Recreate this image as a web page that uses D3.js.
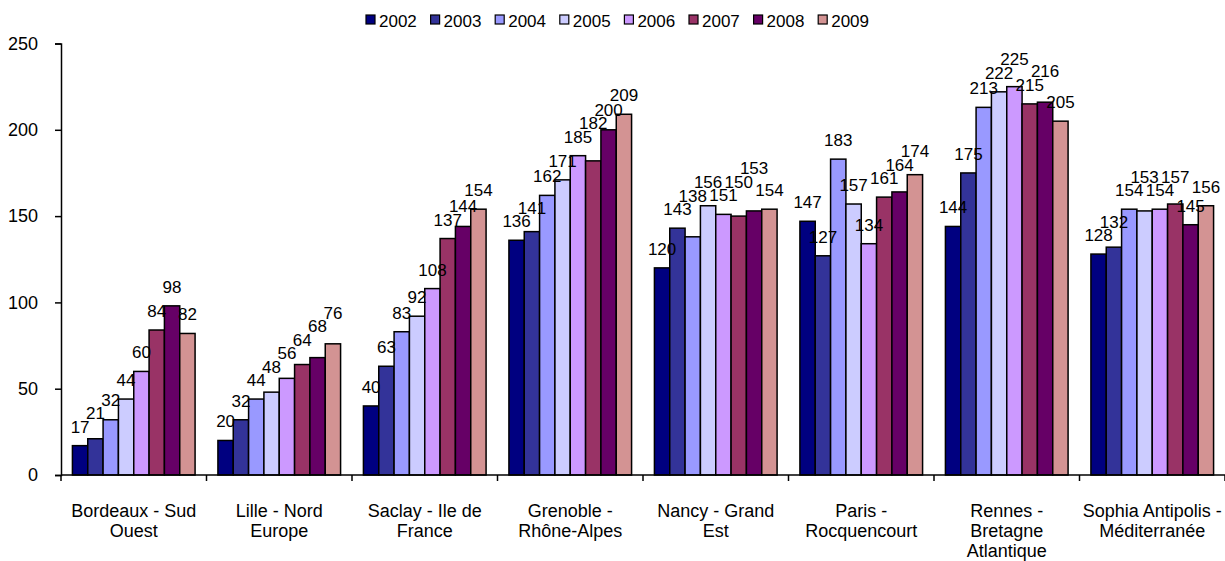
<!DOCTYPE html>
<html>
<head>
<meta charset="utf-8">
<script src="https://cdn.jsdelivr.net/npm/d3@7"></script>
<style>
  body { margin: 0; background: #fff; }
  text { font-family: "Liberation Sans", Arial, sans-serif; fill: #000; }
</style>
</head>
<body>
<div id="chart"></div>
<script>
// data
var categories = [
  "Bordeaux - Sud\nOuest",
  "Lille - Nord\nEurope",
  "Saclay - Ile de\nFrance",
  "Grenoble -\nRhône-Alpes",
  "Nancy - Grand\nEst",
  "Paris -\nRocquencourt",
  "Rennes -\nBretagne\nAtlantique",
  "Sophia Antipolis -\nMéditerranée"
];
var years = ["2002", "2003", "2004", "2005", "2006", "2007", "2008", "2009"];
var colors = ["#000080", "#333399", "#9999ff", "#ccccff", "#cc99ff", "#993366", "#660066", "#d39393"];

// one row per category, one value per year
var values = [
  [17, 21, 32, 44, 60, 84, 98, 82],
  [20, 32, 44, 48, 56, 64, 68, 76],
  [40, 63, 83, 92, 108, 137, 144, 154],
  [136, 141, 162, 171, 185, 182, 200, 209],
  [120, 143, 138, 156, 151, 150, 153, 154],
  [147, 127, 183, 157, 134, 161, 164, 174],
  [144, 175, 213, 222, 225, 215, 216, 205],
  [128, 132, 154, 153, 154, 157, 145, 156]
];
var yTicks = [0, 50, 100, 150, 200, 250];

var width = 1225, height = 561;
var plotLeft = 61, plotRight = 1225, plotTop = 43.5, plotBottom = 475;

var svg = d3.select("#chart").append("svg")
  .attr("width", width)
  .attr("height", height);

var x0 = d3.scaleBand()
  .domain(categories)
  .range([plotLeft, plotRight])
  .paddingInner(0.157)
  .paddingOuter(0.0785);

var x1 = d3.scaleBand()
  .domain(years)
  .range([0, x0.bandwidth()]);

var y = d3.scaleLinear()
  .domain([0, 250])
  .range([plotBottom, plotTop]);

// bars
var group = svg.selectAll(".cat")
  .data(values)
  .enter().append("g")
  .attr("class", "cat")
  .attr("transform", function(d, i) { return "translate(" + x0(categories[i]) + ",0)"; });

group.selectAll("rect")
  .data(function(d) { return d; })
  .enter().append("rect")
  .attr("x", function(d, j) { return x1(years[j]); })
  .attr("y", function(d) { return y(d); })
  .attr("width", x1.bandwidth())
  .attr("height", function(d) { return plotBottom - y(d); })
  .style("fill", function(d, j) { return colors[j]; })
  .style("stroke", "#000")
  .style("stroke-width", 1.5);

// value labels
group.selectAll(".lbl")
  .data(function(d) { return d; })
  .enter().append("text")
  .attr("class", "lbl")
  .attr("x", function(d, j) { return x1(years[j]) + x1.bandwidth() / 2; })
  .attr("y", function(d) { return y(d) - 13; })
  .attr("text-anchor", "middle")
  .style("font-size", "17px")
  .text(function(d) { return d; });

// push a label up when it collides with the one before it in the group
var capH = 12.5;
group.each(function() {
  var prev = null;
  d3.select(this).selectAll(".lbl").each(function() {
    var t = d3.select(this);
    var w = this.getComputedTextLength();
    var cx = +t.attr("x"), base = +t.attr("y");
    if (prev) {
      var xHit = Math.abs(cx - prev.cx) < (w + prev.w) / 2;
      var yHit = base > prev.base - capH && base - capH < prev.base;
      if (xHit && yHit) {
        base = prev.base - capH - 1;
        t.attr("y", base);
      }
    }
    prev = { cx: cx, w: w, base: base };
  });
});

// y axis
var yAxis = svg.append("g")
  .attr("transform", "translate(" + plotLeft + ",0)")
  .call(d3.axisLeft(y).tickValues(yTicks).tickSize(6).tickPadding(17));
yAxis.select(".domain").attr("stroke", "#000").attr("stroke-width", 1.5);
yAxis.selectAll(".tick line").attr("stroke-width", 1.5);
yAxis.selectAll(".tick text").style("font-size", "18px").style("font-family", "Liberation Sans, Arial, sans-serif");

// x axis: ticks on category boundaries
var xAxis = svg.append("g").attr("transform", "translate(0," + plotBottom + ")");
xAxis.append("line")
  .attr("x1", plotLeft).attr("x2", plotRight)
  .attr("stroke", "#000").attr("stroke-width", 1.5);
var step = x0.step();
xAxis.selectAll(".xt")
  .data(d3.range(categories.length + 1))
  .enter().append("line")
  .attr("x1", function(i) { return plotLeft + i * step; })
  .attr("x2", function(i) { return plotLeft + i * step; })
  .attr("y1", 0).attr("y2", 6)
  .attr("stroke", "#000").attr("stroke-width", 1.5);

var catLabels = svg.selectAll(".catlbl")
  .data(categories)
  .enter().append("text")
  .attr("class", "catlbl")
  .attr("text-anchor", "middle")
  .style("font-size", "18px")
  .attr("transform", function(d) { return "translate(" + (x0(d) + x0.bandwidth() / 2) + ",517)"; });
catLabels.selectAll("tspan")
  .data(function(d) { return d.split("\n"); })
  .enter().append("tspan")
  .attr("x", 0)
  .attr("dy", function(d, i) { return i === 0 ? 0 : 20; })
  .text(function(d) { return d; });

// legend
var legend = svg.selectAll(".leg")
  .data(years)
  .enter().append("g")
  .attr("class", "leg")
  .attr("transform", function(d, i) { return "translate(" + (366 + i * 64.6) + ",0)"; });
legend.append("rect")
  .attr("x", 0).attr("y", 15)
  .attr("width", 9).attr("height", 9)
  .style("fill", function(d, i) { return colors[i]; })
  .style("stroke", "#000")
  .style("stroke-width", 1.2);
legend.append("text")
  .attr("x", 13).attr("y", 26.5)
  .style("font-size", "17px")
  .text(function(d) { return d; });
</script>
</body>
</html>
